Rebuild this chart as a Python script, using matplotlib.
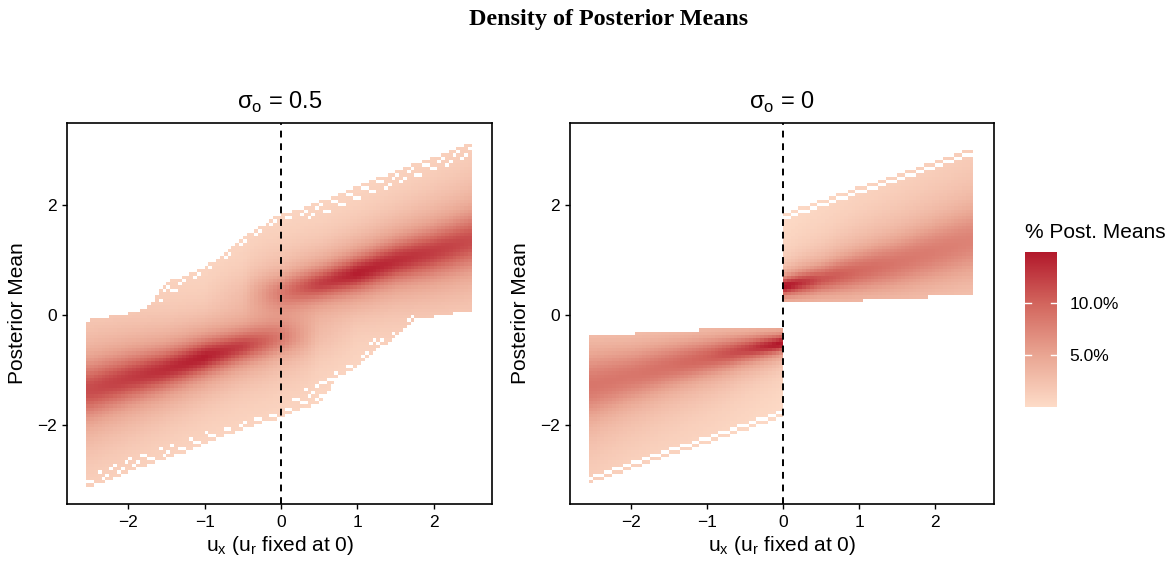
import matplotlib
matplotlib.use("Agg")
import matplotlib.pyplot as plt
import numpy as np
from matplotlib.colors import LinearSegmentedColormap

plt.rcParams['font.family'] = ['Liberation Sans', 'DejaVu Sans']

# ---- values ----
# band edges (outer), sampled every 0.25 in u_x
x25 = [-2.5, -2.25, -2.0, -1.75, -1.5, -1.25, -1.0, -0.75, -0.5, -0.25, 0.0,
       0.25, 0.5, 0.75, 1.0, 1.25, 1.5, 1.75, 2.0, 2.25, 2.5]
p1_top = [-0.09, -0.03, 0.03, 0.12, 0.62, 0.72, 0.88, 1.10, 1.42, 1.62, 1.85,
          1.93, 2.06, 2.20, 2.35, 2.48, 2.60, 2.75, 2.87, 3.00, 3.15]
p1_top_fringe = [0.0, 0.0, 0.0, 0.0, 0.30, 0.20, 0.10, 0.10, 0.15, 0.15, 0.15,
                 0.20, 0.25, 0.30, 0.30, 0.30, 0.30, 0.30, 0.30, 0.30, 0.30]
p1_bot = [-3.12, -3.00, -2.85, -2.72, -2.60, -2.48, -2.33, -2.20, -2.08, -1.95, -1.87,
          -1.72, -1.60, -1.10, -0.95, -0.60, -0.42, -0.08, -0.03, 0.03, 0.09]
p1_bot_fringe = [0.20, 0.25, 0.25, 0.25, 0.20, 0.20, 0.20, 0.15, 0.15, 0.15, 0.10,
                 0.35, 0.40, 0.10, 0.15, 0.25, 0.10, 0.10, 0.0, 0.0, 0.0]

# ridge of each mixture component, sampled every 0.5 in u_x
x50 = [-2.5, -2.0, -1.5, -1.0, -0.5, 0.0, 0.5, 1.0, 1.5, 2.0, 2.5]
p1_lo_center = [-1.35, -1.15, -0.98, -0.76, -0.57, -0.42, -0.40, -0.35, -0.30, -0.20, -0.10]
p1_lo_peak = [11.5, 12.5, 13.5, 14.5, 12.0, 7.0, 1.5, 0.0, 0.0, 0.0, 0.0]
p1_lo_sd = [0.30, 0.26, 0.22, 0.19, 0.18, 0.20, 0.26, 0.26, 0.26, 0.26, 0.26]
p1_up_center = [0.10, 0.20, 0.30, 0.35, 0.40, 0.42, 0.57, 0.76, 0.98, 1.15, 1.35]
p1_up_peak = [0.0, 0.0, 0.0, 0.0, 1.5, 7.0, 12.0, 14.5, 13.5, 12.5, 11.5]
p1_up_sd = [0.26, 0.26, 0.26, 0.26, 0.26, 0.20, 0.18, 0.19, 0.22, 0.26, 0.30]

# sigma_o = 0: two separate blocks
p2_lo_x = [-2.5, -2.0, -1.5, -1.0, -0.5, 0.0]
p2_lo_center = [-1.27, -1.10, -0.92, -0.77, -0.63, -0.51]
p2_lo_peak = [8.5, 8.5, 9.0, 10.0, 12.0, 15.5]
p2_lo_sd = [0.36, 0.30, 0.25, 0.20, 0.14, 0.09]
p2_lo_top_breaks = [-1.93, -1.08]
p2_lo_top = [-0.35, -0.27, -0.21]
p2_lo_bot_x = [-2.55, 0.0]
p2_lo_bot = [-2.94, -1.73]

p2_up_x = [0.0, 0.5, 1.0, 1.5, 2.0, 2.5]
p2_up_center = [0.52, 0.65, 0.80, 0.95, 1.15, 1.36]
p2_up_peak = [15.5, 11.0, 9.5, 8.5, 8.0, 7.5]
p2_up_sd = [0.09, 0.15, 0.22, 0.28, 0.33, 0.38]
p2_up_bot_breaks = [1.05, 1.9]
p2_up_bot = [0.22, 0.29, 0.36]
p2_up_top_x = [0.0, 2.5]
p2_up_top = [1.73, 2.91]

cbar_ticks = [5, 10]
cbar_labels = ['5.0%', '10.0%']

# ---- grid ----
dx, dy = 0.05, 0.06
x_edges = np.arange(-2.55, 2.5 + 1e-9, dx)
xc = (x_edges[:-1] + x_edges[1:]) / 2
y_edges = np.arange(-3.30, 3.30 + 1e-9, dy)
yc = (y_edges[:-1] + y_edges[1:]) / 2
X, Y = np.meshgrid(xc, yc)
IX = np.tile(np.arange(len(xc)), (len(yc), 1))


def blob(center, peak, sd):
    d = (Y - center) / sd
    return peak * (0.5 * np.exp(-0.5 * d ** 2)
                   + 0.35 * np.exp(-0.5 * (d / 2.2) ** 2)
                   + 0.15 * np.exp(-0.5 * (d / 5.0) ** 2))


def fringe_holes(edge, depth, from_top):
    dist = (edge - Y) if from_top else (Y - edge)
    k = np.floor(dist / dy)
    return (k % 2 == 1) & (dist < depth) & (((IX // 2) + (k // 2)) % 2 == 0)


# panel 1
top1 = np.interp(X, x25, p1_top)
bot1 = np.interp(X, x25, p1_bot)
z1 = (blob(np.interp(X, x50, p1_lo_center), np.interp(X, x50, p1_lo_peak), np.interp(X, x50, p1_lo_sd))
      + blob(np.interp(X, x50, p1_up_center), np.interp(X, x50, p1_up_peak), np.interp(X, x50, p1_up_sd))
      + 0.15)
mask1 = (Y > top1) | (Y < bot1)
mask1 |= fringe_holes(top1, np.interp(X, x25, p1_top_fringe), True)
mask1 |= fringe_holes(bot1, np.interp(X, x25, p1_bot_fringe), False)
z1 = np.ma.masked_array(z1, mask1)

# panel 2
lo = X < 0
top_lo = np.array(p2_lo_top)[np.digitize(X, p2_lo_top_breaks)]
bot_lo = np.interp(X, p2_lo_bot_x, p2_lo_bot)
bot_up = np.array(p2_up_bot)[np.digitize(X, p2_up_bot_breaks)]
top_up = np.interp(X, p2_up_top_x, p2_up_top)
z2 = np.where(lo,
              blob(np.interp(X, p2_lo_x, p2_lo_center), np.interp(X, p2_lo_x, p2_lo_peak),
                   np.interp(X, p2_lo_x, p2_lo_sd)),
              blob(np.interp(X, p2_up_x, p2_up_center), np.interp(X, p2_up_x, p2_up_peak),
                   np.interp(X, p2_up_x, p2_up_sd))) + 0.15
stripe_lo = (Y < bot_lo - dy) & (Y >= bot_lo - 2 * dy)
stripe_up = (Y > top_up + dy) & (Y <= top_up + 2 * dy)
keep2 = np.where(lo,
                 ((Y <= top_lo) & (Y >= bot_lo)) | stripe_lo,
                 ((Y >= bot_up) & (Y <= top_up)) | stripe_up)
z2 = np.ma.masked_array(z2, ~keep2)

cmap = LinearSegmentedColormap.from_list('pm', ['#FDDBC7', '#E9A592', '#D2655D', '#B2182B'])

fig = plt.figure(figsize=(11.75, 5.61), dpi=100)
ax1 = fig.add_axes([67.3 / 1175, 56.7 / 561, 425 / 1175, 381.6 / 561])
ax2 = fig.add_axes([570 / 1175, 56.7 / 561, 424 / 1175, 381.6 / 561])
cax = fig.add_axes([1025 / 1175, 154.3 / 561, 32 / 1175, 155 / 561])

titles = ['σ$_\\mathregular{o}$ = 0.5', 'σ$_\\mathregular{o}$ = 0']
for ax, z, t in zip([ax1, ax2], [z1, z2], titles):
    mesh = ax.pcolormesh(x_edges, y_edges, z, cmap=cmap, vmin=0, vmax=15, shading='flat')
    ax.axvline(0, color='black', lw=1.4, ls=(0, (3.5, 3)))
    ax.set_xlim(-2.80, 2.77)
    ax.set_ylim(-3.44, 3.50)
    ax.set_xticks([-2, -1, 0, 1, 2])
    ax.set_xticklabels(['\u22122', '\u22121', '0', '1', '2'])
    ax.set_yticks([-2, 0, 2])
    ax.set_yticklabels(['\u22122', '0', '2'])
    ax.tick_params(length=3.5, width=1, labelsize=12.5, colors='black', pad=4)
    for s in ax.spines.values():
        s.set_linewidth(1.2)
    ax.set_xlabel('u$_\\mathregular{x}$ (u$_\\mathregular{r}$ fixed at 0)', fontsize=15, va='center')
    ax.xaxis.set_label_coords(0.5, -0.109)
    ax.set_ylabel('Posterior Mean', fontsize=15, va='center')
    ax.yaxis.set_label_coords(-0.116, 0.5)
    ax.set_title(t, fontsize=17, pad=10)

cb = fig.colorbar(mesh, cax=cax, ticks=cbar_ticks)
cb.set_ticklabels(cbar_labels)
cb.outline.set_visible(False)
cax.tick_params(length=0, labelsize=12.5, pad=9)
for t in cbar_ticks:
    cax.axhline(t, xmin=0, xmax=0.2, color='white', lw=1)
    cax.axhline(t, xmin=0.8, xmax=1, color='white', lw=1)
fig.text(1025 / 1175, 1 - 232 / 561, '% Post. Means', fontsize=15, va='center', ha='left')

fig.text(609 / 1175, 1 - 19 / 561, 'Density of Posterior Means', fontsize=17.4,
         fontweight='bold', family='Liberation Serif', ha='center', va='center')

fig.savefig('out.png', dpi=100)
